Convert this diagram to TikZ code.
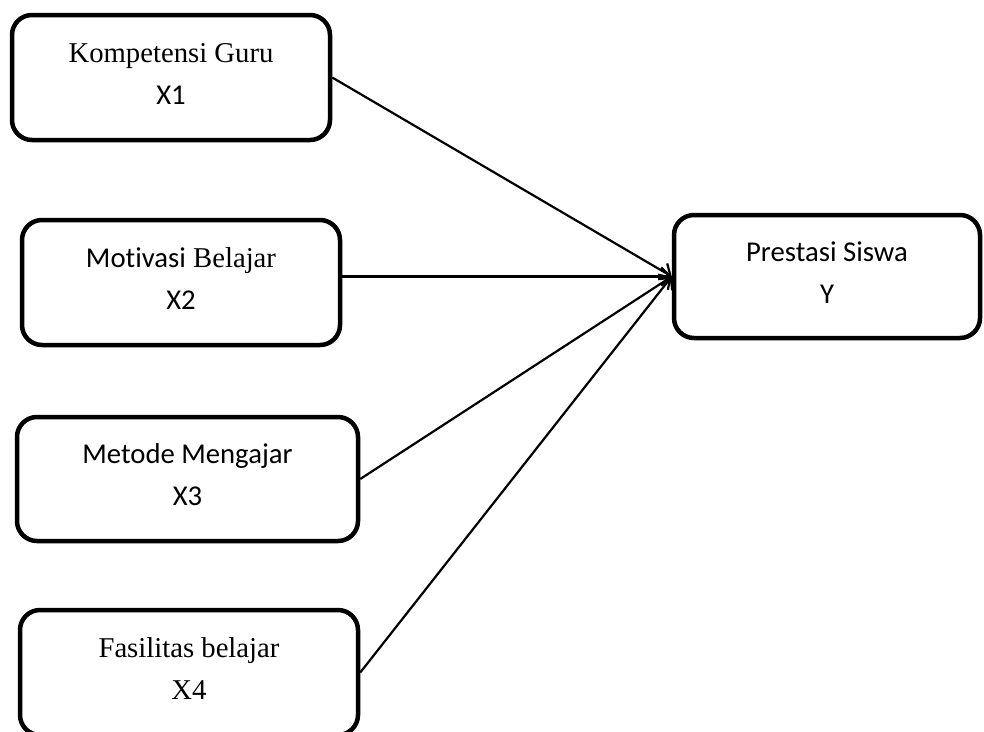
\documentclass[tikz,border=0pt]{standalone}
\usepackage{fontspec}
\setmainfont{Liberation Serif}
\newfontfamily\calfont[Ligatures=NoCommon]{Carlito}
\usetikzlibrary{arrows,arrows.meta,positioning}

\begin{document}
\begin{tikzpicture}[x=1pt,y=-1pt,
		box/.style={draw, line width=4.5pt, rounded corners=20pt, minimum width=318pt,
			minimum height=125pt, align=center, text depth=8pt, font=\fontsize{28.7}{42}\selectfont},
		arr/.style={-{Straight Barb[length=9pt,width=18pt,line width=2.2pt]}, line width=2.2pt}]
		\useasboundingbox (0,0) rectangle (984,731);
		
		% variabel bebas
		\node[box] (kg) at (171,77.5) {Kompetensi Guru\\{\calfont X1}};
		\node[box] (mb) at (181,282.5) {{\calfont Motivasi} Belajar\\{\calfont X2}};
		\node[box, minimum width=341pt, minimum height=124pt] (mm) at (187.5,479) {\calfont Metode Mengajar\\\calfont X3};
		\node[box, minimum width=338pt] (fb) at (189,672.5) {Fasilitas belajar\\X4};
		
		% variabel terikat
		\node[box, minimum width=306pt, minimum height=123pt] (ps) at (827,276.5) {\calfont Prestasi Siswa\\\calfont Y};
		
		\draw[arr] (kg.east) -- (ps.west);
		\draw[arr] (mb.east |- ps.west) -- (ps.west);
		\draw[arr] (mm.east) -- (ps.west);
		\draw[arr] (fb.east) -- (ps.west);
		
\end{tikzpicture}
\end{document}
